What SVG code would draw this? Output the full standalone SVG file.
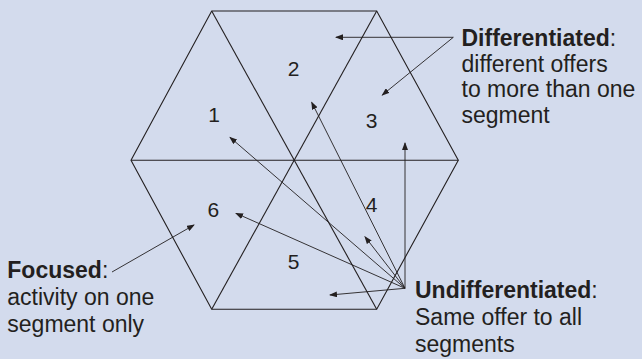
<svg xmlns="http://www.w3.org/2000/svg" width="642" height="359" viewBox="0 0 642 359">
<defs>
<style>
.ln{fill:none;stroke:#231f20;stroke-width:1.1}
.ar{fill:none;stroke:#231f20;stroke-width:0.9;marker-end:url(#ah)}
.num{font-family:"Liberation Sans",Arial,sans-serif;font-size:21px;fill:#231f20;text-anchor:middle}
.lbl{font-family:"Liberation Sans",Arial,sans-serif;font-size:23px;fill:#231f20}
.b{font-weight:bold}
</style>
<marker id="ah" markerWidth="8" markerHeight="6" refX="7" refY="3" orient="auto" markerUnits="userSpaceOnUse">
<path d="M0,0 L8,3 L0,6 z" fill="#231f20"/>
</marker>
</defs>
<rect x="0" y="0" width="642" height="359" fill="#d3dbed"/>
<g id="hexagon">
<polygon class="ln" points="211.7,11 376.7,11 458.3,160.3 376.7,309.3 211.7,309.3 131,160.3"/>
<line class="ln" x1="131" y1="160.3" x2="458.3" y2="160.3"/>
<line class="ln" x1="211.7" y1="11" x2="376.7" y2="309.3"/>
<line class="ln" x1="376.7" y1="11" x2="211.7" y2="309.3"/>
</g>
<g id="segments">
<text class="num" x="214" y="122">1</text>
<text class="num" x="293.5" y="76">2</text>
<text class="num" x="371.7" y="128">3</text>
<text class="num" x="371.7" y="211.5">4</text>
<text class="num" x="293.5" y="269">5</text>
<text class="num" x="213.3" y="216.5">6</text>
</g>
<g id="connectors">
<line class="ar" x1="453.3" y1="37.3" x2="336" y2="37.3"/>
<line class="ar" x1="453.3" y1="37.3" x2="382.3" y2="95"/>
<line class="ar" x1="112" y1="272" x2="194" y2="225"/>
<line class="ar" x1="405" y1="288.3" x2="230" y2="137.3"/>
<line class="ar" x1="405" y1="288.3" x2="311.7" y2="102.3"/>
<line class="ar" x1="405" y1="288.3" x2="405" y2="143"/>
<line class="ar" x1="405" y1="288.3" x2="365" y2="236.7"/>
<line class="ar" x1="405" y1="288.3" x2="236" y2="213.3"/>
<line class="ar" x1="405" y1="288.3" x2="330" y2="295"/>
</g>
<g id="differentiated">
<text class="lbl" x="461.5" y="46"><tspan class="b">Differentiated</tspan>:</text>
<text class="lbl" x="461.5" y="71.5">different offers</text>
<text class="lbl" x="461.5" y="97">to more than one</text>
<text class="lbl" x="461.5" y="122.5">segment</text>
</g>
<g id="focused">
<text class="lbl" x="7.3" y="278.3"><tspan class="b">Focused</tspan>:</text>
<text class="lbl" x="7.3" y="305">activity on one</text>
<text class="lbl" x="7.3" y="331.7">segment only</text>
</g>
<g id="undifferentiated">
<text class="lbl" x="415" y="298.3"><tspan class="b">Undifferentiated</tspan>:</text>
<text class="lbl" x="415" y="325">Same offer to all</text>
<text class="lbl" x="415" y="351.7">segments</text>
</g>
</svg>
